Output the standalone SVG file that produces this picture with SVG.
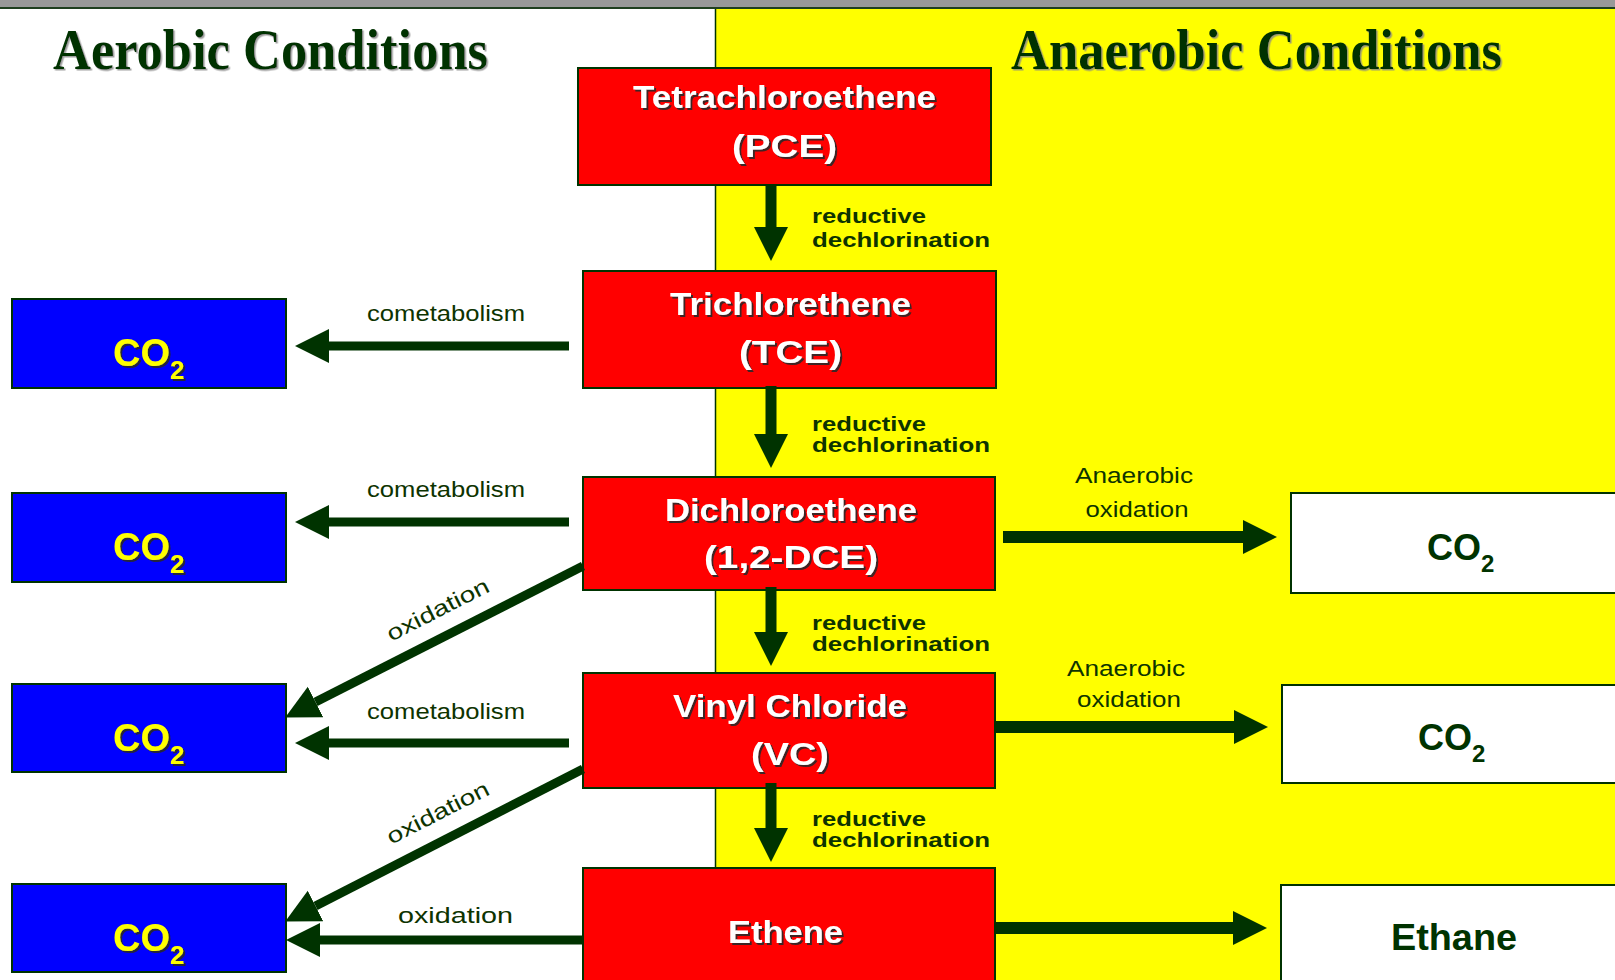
<svg xmlns="http://www.w3.org/2000/svg" width="1615" height="980" viewBox="0 0 1615 980">
<defs>
<style>
.title{font-family:"Liberation Serif","Times New Roman",serif;font-weight:bold;font-size:56px;fill:#003300}
.box{stroke:#003300;stroke-width:2}
.red{fill:#ff0000}
.blue{fill:#0000ff}
.white{fill:#ffffff}
.nt{font-family:"Liberation Sans",Arial,sans-serif;font-weight:bold;font-size:32px;fill:#ffffff;text-anchor:middle}
.co{font-family:"Liberation Sans",Arial,sans-serif;font-weight:bold;font-size:38px;fill:#ffff00}
.cosub{font-size:26px}
.cw{font-family:"Liberation Sans",Arial,sans-serif;font-weight:bold;font-size:36px;fill:#003300}
.cwsub{font-size:24px}
.lbl{font-family:"Liberation Sans",Arial,sans-serif;font-size:22px;fill:#0d3300}
.lblm{font-family:"Liberation Sans",Arial,sans-serif;font-size:22px;fill:#0d3300;text-anchor:middle}
.lblb{font-family:"Liberation Sans",Arial,sans-serif;font-weight:bold;font-size:21px;fill:#0d3300}
.arr{stroke:#003300;fill:none;marker-end:url(#ah)}
</style>
<filter id="sh" x="-10%" y="-20%" width="130%" height="150%">
<feDropShadow dx="2" dy="2" stdDeviation="0.6" flood-color="#2a2a2a" flood-opacity="0.9"/>
</filter>
<filter id="sht" x="-5%" y="-20%" width="110%" height="150%">
<feDropShadow dx="1.5" dy="1.5" stdDeviation="0.5" flood-color="#888888" flood-opacity="0.8"/>
</filter>
<marker id="ah" markerUnits="userSpaceOnUse" markerWidth="34" markerHeight="36" viewBox="0 0 34 36" refX="0" refY="18" orient="auto">
<path d="M0,1 L34,18 L0,35 Z" fill="#003300"/>
</marker>
</defs>

<!-- background -->
<rect x="0" y="0" width="1615" height="980" fill="#ffffff"/>
<rect x="715" y="8" width="900" height="972" fill="#ffff00"/>
<line x1="715.5" y1="8" x2="715.5" y2="980" stroke="#003300" stroke-width="1.5"/>
<rect x="0" y="0" width="1615" height="7" fill="#999999"/>
<rect x="0" y="7" width="1615" height="2" fill="#1f3f1f"/>

<text class="title" x="53" y="69" textLength="435" lengthAdjust="spacingAndGlyphs" filter="url(#sht)">Aerobic Conditions</text>
<text class="title" x="1011" y="69" textLength="491" lengthAdjust="spacingAndGlyphs" filter="url(#sht)">Anaerobic Conditions</text>

<!-- red nodes -->
<g id="pce">
<rect class="box red" x="578" y="68" width="413" height="117"/>
<text class="nt" x="784.5" y="108" textLength="303" lengthAdjust="spacingAndGlyphs" filter="url(#sh)">Tetrachloroethene</text>
<text class="nt" x="784.5" y="157" textLength="105" lengthAdjust="spacingAndGlyphs" filter="url(#sh)">(PCE)</text>
</g>
<g id="tce">
<rect class="box red" x="583" y="271" width="413" height="117"/>
<text class="nt" x="790.5" y="315" textLength="241" lengthAdjust="spacingAndGlyphs" filter="url(#sh)">Trichlorethene</text>
<text class="nt" x="790.5" y="363" textLength="103" lengthAdjust="spacingAndGlyphs" filter="url(#sh)">(TCE)</text>
</g>
<g id="dce">
<rect class="box red" x="583" y="477" width="412" height="113"/>
<text class="nt" x="791" y="521" textLength="252" lengthAdjust="spacingAndGlyphs" filter="url(#sh)">Dichloroethene</text>
<text class="nt" x="791" y="568" textLength="174" lengthAdjust="spacingAndGlyphs" filter="url(#sh)">(1,2-DCE)</text>
</g>
<g id="vc">
<rect class="box red" x="583" y="673" width="412" height="115"/>
<text class="nt" x="790" y="717" textLength="234" lengthAdjust="spacingAndGlyphs" filter="url(#sh)">Vinyl Chloride</text>
<text class="nt" x="790" y="765" textLength="78" lengthAdjust="spacingAndGlyphs" filter="url(#sh)">(VC)</text>
</g>
<g id="ethene">
<rect class="box red" x="583" y="868" width="412" height="125"/>
<text class="nt" x="785.5" y="943" textLength="115" lengthAdjust="spacingAndGlyphs" filter="url(#sh)">Ethene</text>
</g>

<!-- aerobic CO2 nodes -->
<g id="co2-a1">
<rect class="box blue" x="12" y="299" width="274" height="89"/>
<text class="co" x="113" y="366" filter="url(#sh)">CO<tspan class="cosub" x="170" y="379">2</tspan></text>
</g>
<g id="co2-a2">
<rect class="box blue" x="12" y="493" width="274" height="89"/>
<text class="co" x="113" y="560" filter="url(#sh)">CO<tspan class="cosub" x="170" y="573">2</tspan></text>
</g>
<g id="co2-a3">
<rect class="box blue" x="12" y="684" width="274" height="88"/>
<text class="co" x="113" y="751" filter="url(#sh)">CO<tspan class="cosub" x="170" y="764">2</tspan></text>
</g>
<g id="co2-a4">
<rect class="box blue" x="12" y="884" width="274" height="88"/>
<text class="co" x="113" y="951" filter="url(#sh)">CO<tspan class="cosub" x="170" y="964">2</tspan></text>
</g>

<!-- anaerobic product nodes -->
<g id="co2-n1">
<rect class="box white" x="1291" y="493" width="340" height="100"/>
<text class="cw" x="1427" y="560">CO<tspan class="cwsub" x="1481" y="572">2</tspan></text>
</g>
<g id="co2-n2">
<rect class="box white" x="1282" y="685" width="350" height="98"/>
<text class="cw" x="1418" y="750">CO<tspan class="cwsub" x="1472" y="762">2</tspan></text>
</g>
<g id="ethane">
<rect class="box white" x="1281" y="885" width="350" height="110"/>
<text class="cw" x="1391" y="950" textLength="126" lengthAdjust="spacingAndGlyphs">Ethane</text>
</g>

<!-- connectors -->
<g id="connectors">
<line class="arr" x1="771" y1="185" x2="771" y2="227" stroke-width="11"/>
<line class="arr" x1="771" y1="386" x2="771" y2="434" stroke-width="11"/>
<line class="arr" x1="771" y1="587" x2="771" y2="632" stroke-width="11"/>
<line class="arr" x1="771" y1="783" x2="771" y2="828" stroke-width="11"/>

<line class="arr" x1="569" y1="346" x2="329" y2="346" stroke-width="9"/>
<line class="arr" x1="569" y1="522" x2="329" y2="522" stroke-width="9"/>
<line class="arr" x1="569" y1="743" x2="329" y2="743" stroke-width="9"/>
<line class="arr" x1="584" y1="940" x2="320" y2="940" stroke-width="9"/>

<line class="arr" x1="583" y1="566" x2="315.5" y2="702" stroke-width="9"/>
<line class="arr" x1="583" y1="769" x2="315.5" y2="906" stroke-width="9"/>

<line class="arr" x1="1003" y1="537" x2="1243" y2="537" stroke-width="12"/>
<line class="arr" x1="995" y1="727" x2="1234" y2="727" stroke-width="12"/>
<line class="arr" x1="996" y1="928" x2="1233" y2="928" stroke-width="12"/>

<text class="lblb" x="812" y="223" textLength="114" lengthAdjust="spacingAndGlyphs">reductive</text>
<text class="lblb" x="812" y="247" textLength="178" lengthAdjust="spacingAndGlyphs">dechlorination</text>
<text class="lblb" x="812" y="431" textLength="114" lengthAdjust="spacingAndGlyphs">reductive</text>
<text class="lblb" x="812" y="452" textLength="178" lengthAdjust="spacingAndGlyphs">dechlorination</text>
<text class="lblb" x="812" y="630" textLength="114" lengthAdjust="spacingAndGlyphs">reductive</text>
<text class="lblb" x="812" y="651" textLength="178" lengthAdjust="spacingAndGlyphs">dechlorination</text>
<text class="lblb" x="812" y="826" textLength="114" lengthAdjust="spacingAndGlyphs">reductive</text>
<text class="lblb" x="812" y="847" textLength="178" lengthAdjust="spacingAndGlyphs">dechlorination</text>

<text class="lbl" x="367" y="321" textLength="158" lengthAdjust="spacingAndGlyphs">cometabolism</text>
<text class="lbl" x="367" y="497" textLength="158" lengthAdjust="spacingAndGlyphs">cometabolism</text>
<text class="lbl" x="367" y="719" textLength="158" lengthAdjust="spacingAndGlyphs">cometabolism</text>
<text class="lbl" x="398" y="923" textLength="115" lengthAdjust="spacingAndGlyphs">oxidation</text>

<text class="lblm" transform="translate(438,610) rotate(-27)" x="0" y="7" textLength="112" lengthAdjust="spacingAndGlyphs">oxidation</text>
<text class="lblm" transform="translate(438,813) rotate(-27)" x="0" y="7" textLength="112" lengthAdjust="spacingAndGlyphs">oxidation</text>

<text class="lblm" x="1134" y="483" textLength="118" lengthAdjust="spacingAndGlyphs">Anaerobic</text>
<text class="lblm" x="1137" y="517" textLength="103" lengthAdjust="spacingAndGlyphs">oxidation</text>
<text class="lblm" x="1126" y="676" textLength="118" lengthAdjust="spacingAndGlyphs">Anaerobic</text>
<text class="lblm" x="1129" y="707" textLength="104" lengthAdjust="spacingAndGlyphs">oxidation</text>
</g>
</svg>
